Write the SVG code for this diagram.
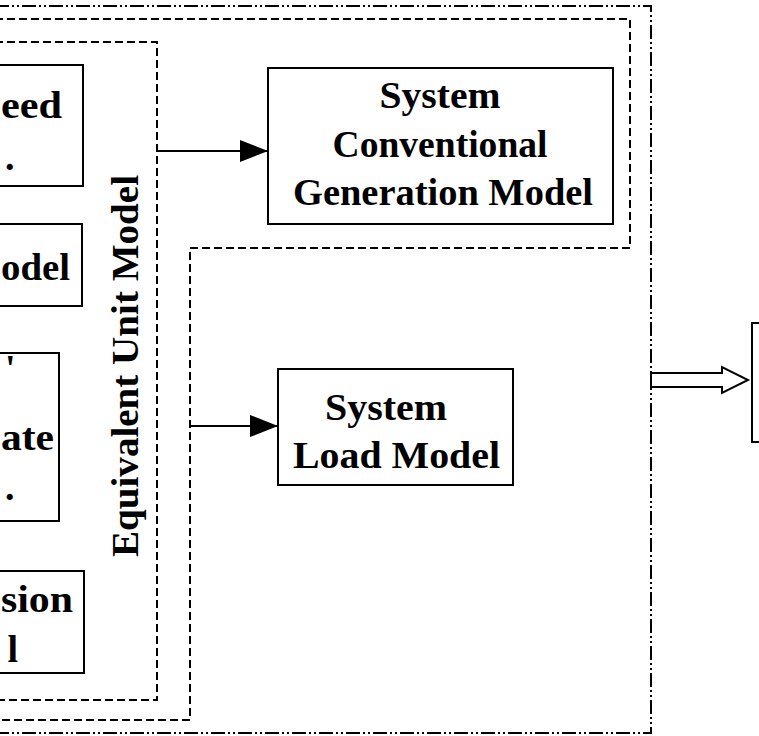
<svg xmlns="http://www.w3.org/2000/svg" width="759" height="736" viewBox="0 0 759 736">
<defs>
<style>
.box{fill:#fff;stroke:#000;stroke-width:2}
.dash{fill:none;stroke:#000;stroke-width:2;stroke-dasharray:8 4}
.dashdot{fill:none;stroke:#000;stroke-width:2;stroke-dasharray:14 3 2 3 2 3}
.t{font-family:"Liberation Serif","Times New Roman",serif;font-weight:bold;font-size:38px;fill:#000}
.line{fill:none;stroke:#000;stroke-width:2}
</style>
<marker id="ah" markerWidth="28" markerHeight="22" refX="28" refY="11" orient="auto" markerUnits="userSpaceOnUse">
<path d="M0,0 L28,11 L0,22 Z" fill="#000"/>
</marker>
</defs>
<rect width="759" height="736" fill="#fff"/>
<g id="containers">
<polyline class="dashdot" points="-5,6 651,6 651,733 -5,733"/>
<polyline class="dash" points="-5,19 630,19 630,248 190,248 190,720 -5,720"/>
<polyline class="dash" points="-5,42 157,42 157,700 -5,700"/>
</g>
<g id="node-left1">
<rect class="box" x="-10" y="65" width="93" height="121"/>
<text class="t" x="1" y="118" textLength="61" lengthAdjust="spacingAndGlyphs">eed</text>
<text class="t" x="5" y="170">.</text>
</g>
<g id="node-left2">
<rect class="box" x="-10" y="224" width="92" height="82"/>
<text class="t" x="1" y="280" textLength="69" lengthAdjust="spacingAndGlyphs">odel</text>
</g>
<g id="node-left3">
<rect class="box" x="-10" y="353" width="69" height="168"/>
<text class="t" x="5" y="381">'</text>
<text class="t" x="1" y="450" textLength="53" lengthAdjust="spacingAndGlyphs">ate</text>
<text class="t" x="5" y="500">.</text>
</g>
<g id="node-left4">
<rect class="box" x="-10" y="571" width="94" height="102"/>
<text class="t" x="1" y="612" textLength="72" lengthAdjust="spacingAndGlyphs">sion</text>
<text class="t" x="18" y="662" text-anchor="end">l</text>
</g>
<g id="label-equivalent">
<text class="t" transform="translate(138,366) rotate(-90)" text-anchor="middle" font-size="39" textLength="382" lengthAdjust="spacingAndGlyphs">Equivalent Unit Model</text>
</g>
<g id="node-generation">
<rect class="box" x="268" y="68" width="345" height="156"/>
<text class="t" x="440" y="108" text-anchor="middle" textLength="121" lengthAdjust="spacingAndGlyphs">System</text>
<text class="t" x="440" y="157" text-anchor="middle" textLength="215" lengthAdjust="spacingAndGlyphs">Conventional</text>
<text class="t" x="443" y="205" text-anchor="middle" textLength="300" lengthAdjust="spacingAndGlyphs">Generation Model</text>
</g>
<g id="node-load">
<rect class="box" x="278" y="369" width="235" height="116"/>
<text class="t" x="325" y="420" textLength="122" lengthAdjust="spacingAndGlyphs">System</text>
<text class="t" x="293" y="468" textLength="207" lengthAdjust="spacingAndGlyphs">Load Model</text>
</g>
<g id="node-right">
<rect class="box" x="752" y="323" width="20" height="119"/>
</g>
<g id="connectors">
<line class="line" x1="157" y1="151" x2="268" y2="151" marker-end="url(#ah)"/>
<line class="line" x1="190" y1="426" x2="278" y2="426" marker-end="url(#ah)"/>
<polygon points="651,373 722,373 722,367 748,380 722,393 722,387 651,387" fill="#fff" stroke="#000" stroke-width="2"/>
</g>
</svg>
